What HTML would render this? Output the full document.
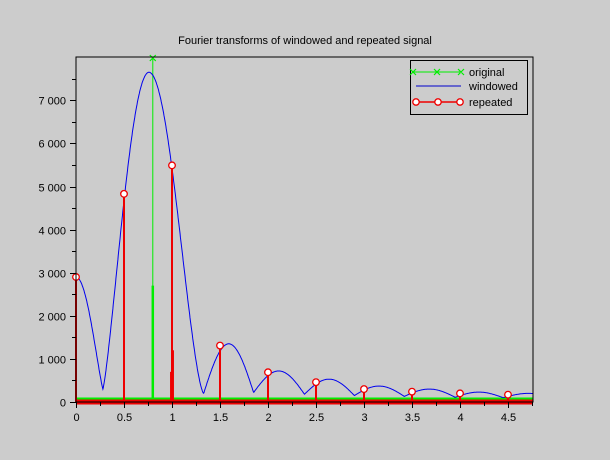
<!DOCTYPE html>
<html><head><meta charset="utf-8"><style>
html,body{margin:0;padding:0;background:#cccccc;}
svg{display:block;font-family:"Liberation Sans",sans-serif;}
</style></head><body>
<svg id="s" width="610" height="460" xmlns="http://www.w3.org/2000/svg">
<rect width="610" height="460" fill="#cccccc"/>
<text x="305" y="44" font-size="11" text-anchor="middle" fill="#000">Fourier transforms of windowed and repeated signal</text>
<g id="plot"></g>
<rect x="76" y="57" width="457" height="345" fill="none" stroke="#000" stroke-width="1"/>
<g id="ticks" stroke="#000" stroke-width="1"></g>
<g id="labels" font-size="11" fill="#000"></g>
<rect x="410.5" y="60.5" width="117" height="54" fill="#cccccc" stroke="#000"/>
<line x1="412" y1="72" x2="460" y2="72" stroke="#00ee00"/>
<g stroke="#00ee00" stroke-width="1.2">
<path d="M410 69l6 6M416 69l-6 6M434 69l6 6M440 69l-6 6M458 69l6 6M464 69l-6 6"/>
</g>
<text x="469" y="76" font-size="11">original</text>
<line x1="416" y1="86" x2="461" y2="86" stroke="#0000cc"/>
<text x="469" y="90" font-size="11">windowed</text>
<line x1="416" y1="102" x2="460" y2="102" stroke="#ee0000" stroke-width="1.5"/>
<g fill="#fff" stroke="#ee0000" stroke-width="1.3"><circle cx="416" cy="102" r="3.2"/><circle cx="438" cy="102" r="3.2"/><circle cx="460" cy="102" r="3.2"/></g>
<text x="469" y="106" font-size="11">repeated</text>
</svg>
<script>
var X=function(v){return 76+v*96;},Y=function(v){return 402-v*0.0431;};
var ns="http://www.w3.org/2000/svg";
function el(p,t,a,txt){var e=document.createElementNS(ns,t);for(var k in a)e.setAttribute(k,a[k]);if(txt)e.textContent=txt;document.getElementById(p).appendChild(e);return e;}
var Z=[1.33,1.85,2.38,2.9,3.42,3.95,4.45,4.97];
var M=[200,220,180,150,130,110,100,100];
var P=[1350,720,530,370,300,230,200];
function f(x){
 if(x<=0.28){var t=x/0.28;return 300+2600*Math.pow(Math.cos(Math.PI/2*t),1.15);}
 if(x<=0.76){var t=(0.76-x)/0.48;return 300+7350*Math.pow(Math.cos(Math.PI/2*t),1.25);}
 if(x<=1.33){var t=(x-0.76)/0.57;return 200+7450*Math.pow(Math.cos(Math.PI/2*t),1.5);}
 for(var i=0;i<Z.length-1;i++){if(x<=Z[i+1]){var t=(x-Z[i])/(Z[i+1]-Z[i]);var b=M[i]*(1-t)+M[i+1]*t;return b+(P[i]-(M[i]+M[i+1])/2)*Math.sin(Math.PI*t);}}
 return 100;}
var d="";for(var x=0;x<=4.76;x+=0.004){d+=(d?"L":"M")+X(x).toFixed(1)+" "+Y(f(x)).toFixed(1);}
el("plot","line",{x1:76,y1:398.5,x2:533,y2:398.5,stroke:"#00ee00","stroke-width":2});
el("plot","line",{x1:X(0.8),y1:57,x2:X(0.8),y2:402,stroke:"#00ee00","stroke-width":1});
el("plot","line",{x1:X(0.8),y1:Y(2700),x2:X(0.8),y2:402,stroke:"#00ee00","stroke-width":2.5});
el("plot","path",{d:"M"+(X(0.8)-3)+" 55l6 6M"+(X(0.8)+3)+" 55l-6 6",stroke:"#00ee00","stroke-width":1.2,fill:"none"});
el("plot","path",{d:d,stroke:"#0000ee","stroke-width":1,fill:"none"});
var hs=[2900,4830,5490,1310,690,460,300,240,200,170];
var extra=[[0.5,2350],[0.99,700],[1.01,1200],[1.5,500],[2.0,500],[2.5,300],[3.0,200],[3.5,150]];
extra.forEach(function(e){el("plot","line",{x1:X(e[0]),y1:Y(e[1]),x2:X(e[0]),y2:402,stroke:"#ee0000","stroke-width":2});});
el("plot","line",{x1:76,y1:402,x2:533,y2:402,stroke:"#ee0000","stroke-width":5});
hs.forEach(function(h,i){var x=X(i*0.5);el("plot","line",{x1:x,y1:Y(h),x2:x,y2:402,stroke:"#ee0000","stroke-width":2});});
hs.forEach(function(h,i){var x=X(i*0.5);el("plot","circle",{cx:x,cy:Y(h),r:3.3,fill:"#fff",stroke:"#ee0000","stroke-width":1.3});});
for(var v=0;v<=7500;v+=500){var y=Math.round(Y(v))+0.5;el("ticks","line",{x1:76,y1:y,x2:v%1000==0?70:72,y2:y});
 if(v%1000==0){el("labels","text",{x:66,y:y+4,"text-anchor":"end"},v==0?"0":(v/1000)+" 000");}}
for(var i=0;i<=19;i++){var xv=i*0.25;var x=Math.round(X(xv))+0.5;if(x>533)break;el("ticks","line",{x1:x,y1:402,x2:x,y2:i%2==0?408:406});
 if(i%2==0)el("labels","text",{x:x,y:421,"text-anchor":"middle"},String(xv));}
</script>
</body></html>
